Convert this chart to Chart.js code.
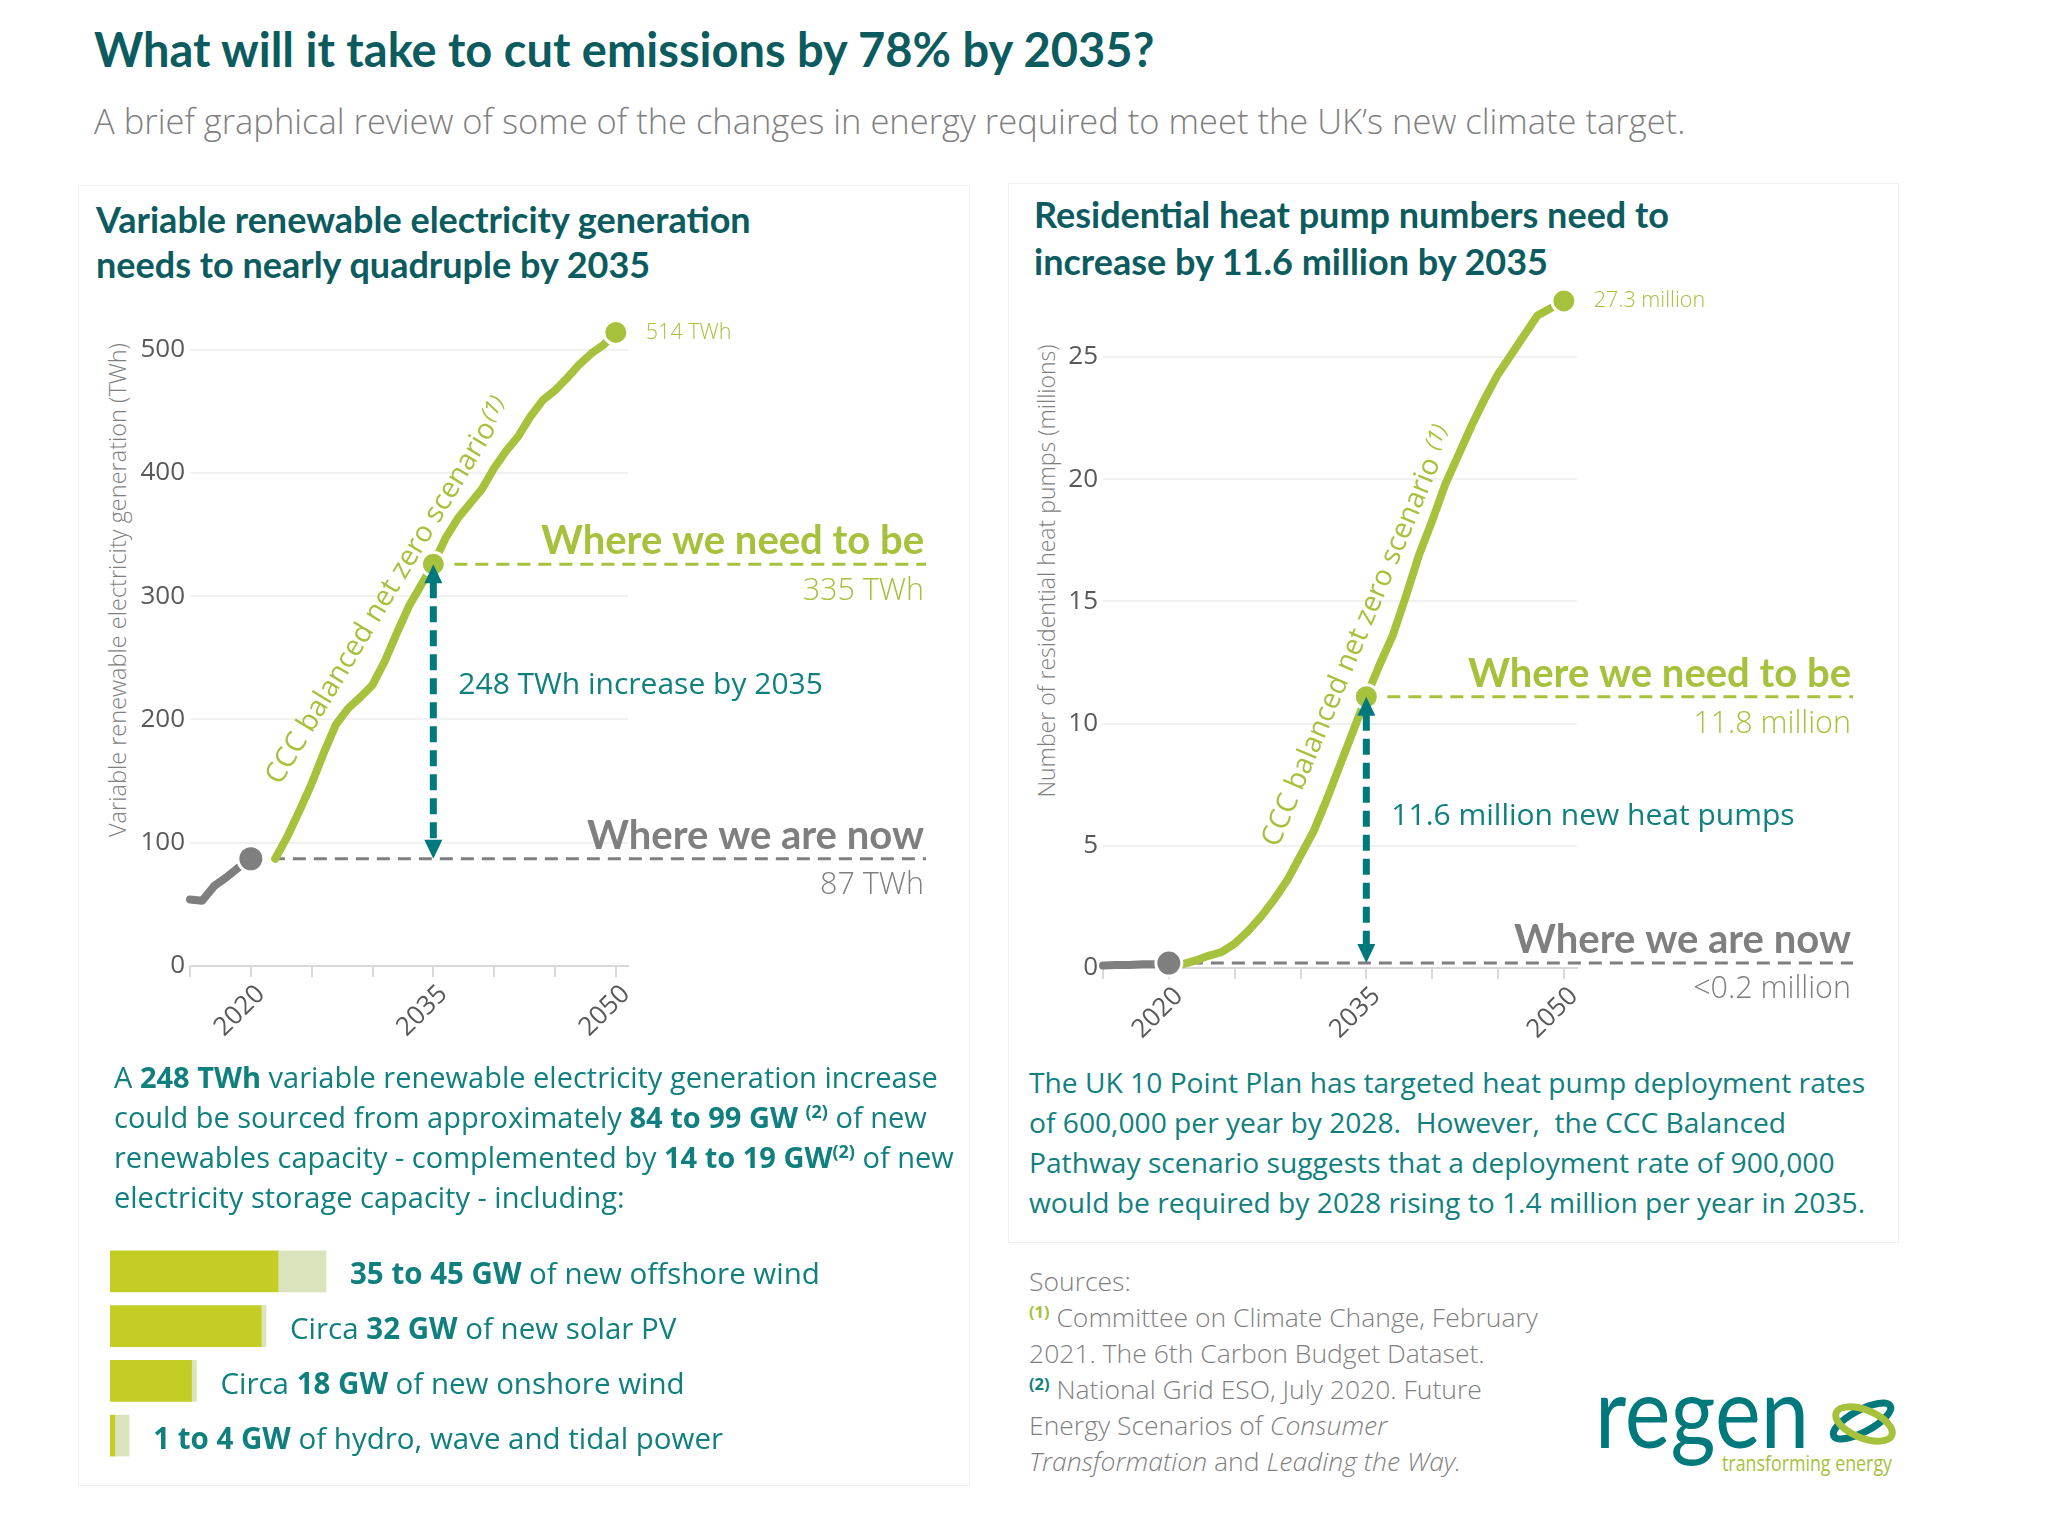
<!DOCTYPE html>
<html>
<head>
<meta charset="utf-8">
<script src="https://cdn.jsdelivr.net/npm/chart.js@4.4.1/dist/chart.umd.min.js"></script>
<style>
  body { margin: 0; background: #fff; }
  #page { position: relative; width: 2048px; height: 1513px; overflow: hidden; background: #fff;
          font-family: 'Open Sans', Lato, sans-serif; }
  .abs { position: absolute; white-space: nowrap; }
  .panel { position: absolute; border: 1px solid #f0f0f0; box-sizing: border-box; }
  .box { position: absolute; }
  .head { color: #0b5b5f; font-weight: 700; font-family: Lato, 'Open Sans', sans-serif; }
  .teal { color: #10807f; }
  .ytitle { position: absolute; white-space: nowrap; font-weight: 300; color: #7f7f7f;
            transform: translate(-50%, -50%) rotate(-90deg); }
  sup { font-size: 0.62em; line-height: 0; vertical-align: 0.55em; font-weight: 700; }
  .g { color: #a6c13c; }
</style>
</head>
<body>
<div id="page">
  <div class="abs head" style="left:94px;top:26px;font-size:47px;line-height:47px;">What will it take to cut emissions by 78% by 2035?</div>
  <div class="abs" style="left:94px;top:104px;font-size:34.5px;line-height:34.5px;font-weight:300;color:#7f7f7f;">A brief graphical review of some of the changes in energy required to meet the UK’s new climate target.</div>

  <div class="panel" style="left:78px;top:185px;width:892px;height:1301px;"></div>
  <div class="panel" style="left:1008px;top:183px;width:891px;height:1060px;"></div>

  <div class="abs head" style="left:96px;top:197px;font-size:36px;line-height:45px;">Variable renewable electricity generation<br>needs to nearly quadruple by 2035</div>
  <div class="abs head" style="left:1034px;top:191px;font-size:36px;line-height:47px;">Residential heat pump numbers need to<br>increase by 11.6 million by 2035</div>

  <div class="ytitle" style="left:117px;top:590px;font-size:23.5px;">Variable renewable electricity generation (TWh)</div>
  <div class="ytitle" style="left:1046px;top:571px;font-size:23px;">Number of residential heat pumps (millions)</div>

  <div class="box" style="left:80px;top:300px;width:870px;height:780px;"><canvas id="twhChart"></canvas></div>
  <div class="box" style="left:1000px;top:280px;width:880px;height:780px;"><canvas id="pumpChart"></canvas></div>

  <div class="abs teal" style="left:114px;top:1057px;font-size:29px;line-height:40px;">A <b>248 TWh</b> variable renewable electricity generation increase<br>could be sourced from approximately <b>84 to 99 GW <sup>(2)</sup></b> of new<br>renewables capacity - complemented by <b>14 to 19 GW<sup>(2)</sup></b> of new<br>electricity storage capacity - including:</div>

  <div class="box" style="left:110px;top:1244px;width:800px;height:219px;"><canvas id="capacityChart"></canvas></div>

  <div class="abs teal" style="left:1029px;top:1062px;font-size:28.2px;line-height:40px;">The UK 10 Point Plan has targeted heat pump deployment rates<br>of 600,000 per year by 2028.&nbsp; However,&nbsp; the CCC Balanced<br>Pathway scenario suggests that a deployment rate of 900,000<br>would be required by 2028 rising to 1.4 million per year in 2035.</div>

  <div class="abs" style="left:1029px;top:1263px;font-size:26.5px;line-height:36px;font-weight:300;color:#7f7f7f;">Sources:<br><sup class="g">(1)</sup> Committee on Climate Change, February<br>2021. The 6th Carbon Budget Dataset.<br><sup class="teal">(2)</sup> National Grid ESO, July 2020. Future<br>Energy Scenarios of <i>Consumer</i><br><i>Transformation</i> and <i>Leading the Way.</i></div>

  <svg class="abs" style="left:1590px;top:1385px;" width="320" height="100" viewBox="0 0 320 100">
    <text x="5" y="63" font-family="Lato" font-weight="400" font-size="98" fill="#00797c" textLength="214" lengthAdjust="spacingAndGlyphs">regen</text>
    <text x="132" y="86" font-family="Open Sans" font-size="21" fill="#a6c13c" textLength="170" lengthAdjust="spacingAndGlyphs">transforming energy</text>
    <ellipse cx="272" cy="36" rx="32" ry="11" fill="none" stroke="#00797c" stroke-width="7" transform="rotate(-28 272 36)"/>
    <ellipse cx="274" cy="39" rx="30" ry="14" fill="none" stroke="#a6c13c" stroke-width="7" transform="rotate(22 274 39)"/>
  </svg>
</div>

<script>
// --- ДАНІ ---
// Variable renewable generation, TWh
const histYears = [2015, 2016, 2017, 2018, 2019, 2020];
const histTwh = [54, 53, 65, 72, 80, 87];
const cccYears = [2022, 2023, 2024, 2025, 2026, 2027, 2028, 2029, 2030, 2031, 2032, 2033, 2034, 2035,
                  2036, 2037, 2038, 2039, 2040, 2041, 2042, 2043, 2044, 2045, 2046, 2047, 2048, 2049, 2050];
const cccTwh = [87, 105, 126, 148, 173, 196, 209, 218, 228, 247, 270, 292, 309, 326,
                347, 363, 375, 387, 404, 418, 430, 446, 459, 467, 477, 488, 497, 504, 514];
const twhTicks = [0, 100, 200, 300, 400, 500];

// Residential heat pumps, millions
const pumpHistYears = [2015, 2016, 2017, 2018, 2019, 2020];
const pumpHist = [0.10, 0.12, 0.12, 0.15, 0.15, 0.2];
const pumpYears = [2021, 2022, 2023, 2024, 2025, 2026, 2027, 2028, 2029, 2030, 2031, 2032, 2033, 2034, 2035,
                   2036, 2037, 2038, 2039, 2040, 2041, 2042, 2043, 2044, 2045, 2046, 2047, 2048, 2049, 2050];
const pumpCcc = [0.15, 0.3, 0.5, 0.65, 1.0, 1.5, 2.1, 2.8, 3.6, 4.6, 5.6, 6.9, 8.3, 9.7, 11.1,
                 12.4, 13.6, 15.2, 16.9, 18.3, 19.8, 21.0, 22.2, 23.3, 24.3, 25.1, 25.9, 26.7, 27.0, 27.3];
const pumpTicks = [0, 5, 10, 15, 20, 25];

const yearTicks = [2015, 2020, 2025, 2030, 2035, 2040, 2045, 2050];
const yearLabels = [2020, 2035, 2050];
const nowYear = 2020;
const targetYear = 2035;
const endYear = 2050;

// New capacity, GW (low / high end of range)
const techPrefix = ['', 'Circa ', 'Circa ', ''];
const techValue = ['35 to 45 GW', '32 GW', '18 GW', '1 to 4 GW'];
const techSuffix = [' of new offshore wind', ' of new solar PV', ' of new onshore wind', ' of hydro, wave and tidal power'];
const capacityLow = [35, 31.5, 17, 1];
const capacityHigh = [45, 32.5, 18, 4];

// --- КОЛЬОРИ / ШРИФТИ ---
const GREEN = '#a6c13c';
const GREY = '#7f7f7f';
const TEAL = '#00797d';
const TEXT_TEAL = '#10807f';
const BODY = "'Open Sans', Lato, sans-serif";
const HEAD = "Lato, 'Open Sans', sans-serif";

Chart.defaults.font.family = BODY;
Chart.defaults.color = '#595959';

const getEl = (id) => document.getElementById(id);
const toPoints = (xs, ys) => xs.map((x, i) => ({ x, y: ys[i] }));
const valueAt = (xs, ys, year) => ys[xs.indexOf(year)];

// Пунктирні лінії, стрілка та підписи "Where we ..."
const guides = {
    id: 'guides',
    beforeDatasetsDraw(chart, args, o) {
        const { ctx, scales: { x, y } } = chart;
        const nowY = y.getPixelForValue(o.nowValue);
        const needY = y.getPixelForValue(o.needValue);
        ctx.save();
        ctx.lineWidth = 3;
        ctx.setLineDash([13, 8]);
        ctx.strokeStyle = GREY;
        ctx.beginPath(); ctx.moveTo(x.getPixelForValue(nowYear), nowY); ctx.lineTo(o.endX, nowY); ctx.stroke();
        ctx.strokeStyle = GREEN;
        ctx.beginPath(); ctx.moveTo(x.getPixelForValue(targetYear), needY); ctx.lineTo(o.endX, needY); ctx.stroke();
        ctx.restore();
    },
    afterDatasetsDraw(chart, args, o) {
        const { ctx, scales: { x, y } } = chart;
        const nowY = y.getPixelForValue(o.nowValue);
        const needY = y.getPixelForValue(o.needValue);
        const ax = x.getPixelForValue(targetYear);
        ctx.save();

        // подвійна стрілка
        ctx.strokeStyle = TEAL;
        ctx.fillStyle = TEAL;
        ctx.lineWidth = 7;
        ctx.setLineDash([16, 8]);
        ctx.beginPath(); ctx.moveTo(ax, needY + 18); ctx.lineTo(ax, nowY - 18); ctx.stroke();
        ctx.setLineDash([]);
        const head = (py, dir) => {
            ctx.beginPath();
            ctx.moveTo(ax, py);
            ctx.lineTo(ax - 9, py + dir * 19);
            ctx.lineTo(ax + 9, py + dir * 19);
            ctx.closePath(); ctx.fill();
        };
        head(needY, 1);
        head(nowY, -1);

        // підписи праворуч
        ctx.textAlign = 'right';
        ctx.textBaseline = 'alphabetic';
        ctx.font = `700 40px ${HEAD}`;
        ctx.fillStyle = GREEN; ctx.fillText('Where we need to be', o.endX - 2, needY - 10);
        ctx.fillStyle = GREY; ctx.fillText('Where we are now', o.endX - 2, nowY - 10);
        ctx.font = `300 30.5px ${BODY}`;
        ctx.fillStyle = GREEN; ctx.fillText(o.needText, o.endX - 2, needY + 36);
        ctx.fillStyle = GREY; ctx.fillText(o.nowText, o.endX - 2, nowY + 35);

        // приріст
        ctx.textAlign = 'left';
        ctx.font = `400 30px ${BODY}`;
        ctx.fillStyle = TEXT_TEAL;
        ctx.fillText(o.gapText, ax + 25, nowY + (needY - nowY) * o.gapAt);

        // значення 2050
        ctx.font = `300 21.5px ${BODY}`;
        ctx.fillStyle = GREEN;
        ctx.textBaseline = 'middle';
        ctx.fillText(o.endText, x.getPixelForValue(endYear) + 30, y.getPixelForValue(o.endValue));

        // назва сценарію вздовж кривої
        ctx.translate(x.getPixelForValue(o.curveAt[0]), y.getPixelForValue(o.curveAt[1]));
        ctx.rotate(-o.curveAngle * Math.PI / 180);
        ctx.textBaseline = 'alphabetic';
        ctx.font = `400 28.5px ${BODY}`;
        ctx.fillText(o.curveText, 0, 0);
        const w = ctx.measureText(o.curveText).width;
        ctx.font = `italic 400 22px ${BODY}`;
        ctx.fillText('(1)', w + 2, -7);
        ctx.restore();
    }
};

const createLineChart = (canvas, cfg) => new Chart(canvas, {
    type: 'line',
    data: {
        datasets: [
            {
                data: cfg.hist,
                borderColor: GREY, backgroundColor: GREY,
                borderWidth: 8, borderCapStyle: 'round', borderJoinStyle: 'round',
                pointRadius: (c) => c.raw && c.raw.x === nowYear ? 13 : 0,
                pointBorderColor: '#fff', pointBorderWidth: 3,
                clip: false
            },
            {
                data: cfg.ccc,
                borderColor: GREEN, backgroundColor: GREEN,
                borderWidth: 8, borderCapStyle: 'round', borderJoinStyle: 'round',
                pointRadius: (c) => c.raw && (c.raw.x === targetYear || c.raw.x === endYear) ? 12 : 0,
                pointBorderColor: '#fff', pointBorderWidth: 3,
                clip: false
            }
        ]
    },
    plugins: [guides],
    options: {
        animation: false,
        responsive: true,
        maintainAspectRatio: false,
        events: [],
        layout: { padding: cfg.padding },
        plugins: { legend: { display: false }, tooltip: { enabled: false }, guides: cfg.guides },
        scales: {
            x: {
                type: 'linear', min: 2015, max: 2051,
                afterBuildTicks: (s) => { s.ticks = yearTicks.map(value => ({ value })); },
                afterFit: (s) => { s.height = cfg.xHeight; s.paddingLeft = 0; s.paddingRight = 0; },
                ticks: {
                    autoSkip: false, minRotation: 45, maxRotation: 45, labelOffset: 10,
                    callback: (v) => yearLabels.includes(v) ? String(v) : '',
                    font: { size: 26 }, color: '#595959', padding: 2
                },
                grid: { drawOnChartArea: false, drawTicks: true, tickLength: 11, color: '#d9d9d9', lineWidth: 2 },
                border: { display: true, color: '#d9d9d9', width: 2 }
            },
            y: {
                min: 0, max: cfg.yMax,
                afterBuildTicks: (s) => { s.ticks = cfg.yTicks.map(value => ({ value })); },
                afterFit: (s) => { s.width = cfg.yWidth; s.paddingTop = 0; s.paddingBottom = 0; },
                ticks: { font: { size: 26 }, color: '#595959', padding: 5 },
                grid: { drawTicks: false, color: '#f1f1f1', lineWidth: 2 },
                border: { display: false }
            }
        }
    }
});

createLineChart(getEl('twhChart'), {
    hist: toPoints(histYears, histTwh),
    ccc: toPoints(cccYears, cccTwh),
    padding: { left: 20, right: 322, top: 25, bottom: 14 },
    yWidth: 90, xHeight: 100, yMax: 520, yTicks: twhTicks,
    guides: {
        nowValue: histTwh[histTwh.length - 1],
        needValue: valueAt(cccYears, cccTwh, targetYear),
        endValue: cccTwh[cccTwh.length - 1],
        endX: 846,
        needText: '335 TWh', nowText: '87 TWh', endText: '514 TWh',
        gapText: '248 TWh increase by 2035', gapAt: 0.56,
        curveText: 'CCC balanced net zero scenario', curveAt: [2022.4, 146], curveAngle: 58.8
    }
});

createLineChart(getEl('pumpChart'), {
    hist: toPoints(pumpHistYears, pumpHist),
    ccc: toPoints(pumpYears, pumpCcc),
    padding: { left: 20, right: 303, top: 12, bottom: 12 },
    yWidth: 83, xHeight: 80, yMax: 27.5, yTicks: pumpTicks,
    guides: {
        nowValue: pumpHist[pumpHist.length - 1],
        needValue: valueAt(pumpYears, pumpCcc, targetYear),
        endValue: pumpCcc[pumpCcc.length - 1],
        endX: 853,
        needText: '11.8 million', nowText: '<0.2 million', endText: '27.3 million',
        gapText: '11.6 million new heat pumps', gapAt: 0.52,
        curveText: 'CCC balanced net zero scenario ', curveAt: [2028.3, 4.9], curveAngle: 67.2
    }
});

// Підписи до смуг потужності
const barLabels = {
    id: 'barLabels',
    afterDatasetsDraw(chart) {
        const { ctx } = chart;
        const meta = chart.getDatasetMeta(1);
        ctx.save();
        ctx.fillStyle = TEXT_TEAL;
        ctx.textBaseline = 'alphabetic';
        meta.data.forEach((bar, i) => {
            let px = bar.x + 24;
            const py = bar.y + 13;
            [[techPrefix[i], 400], [techValue[i], 700], [techSuffix[i], 400]].forEach(([txt, weight]) => {
                ctx.font = `${weight} 29.5px ${BODY}`;
                ctx.fillText(txt, px, py);
                px += ctx.measureText(txt).width;
            });
        });
        ctx.restore();
    }
};

new Chart(getEl('capacityChart'), {
    type: 'bar',
    data: {
        labels: techValue,
        datasets: [
            { data: capacityLow, backgroundColor: '#c3cd23', barThickness: 41 },
            { data: capacityHigh.map((h, i) => h - capacityLow[i]), backgroundColor: '#d9e4bd', barThickness: 41 }
        ]
    },
    plugins: [barLabels],
    options: {
        indexAxis: 'y',
        animation: false,
        responsive: true,
        maintainAspectRatio: false,
        events: [],
        layout: { padding: { left: 0, right: 320, top: 0, bottom: 0 } },
        plugins: { legend: { display: false }, tooltip: { enabled: false } },
        scales: {
            x: { display: false, stacked: true, min: 0, max: 100 },
            y: { display: false, stacked: true }
        }
    }
});
</script>
</body>
</html>
